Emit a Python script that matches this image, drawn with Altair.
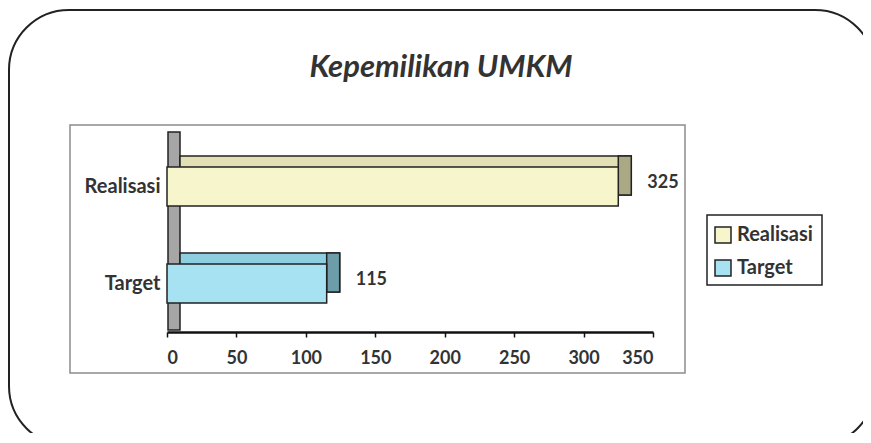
import altair as alt
import pandas as pd

# ---- data ----
categories = ["Realisasi", "Target"]
values = [325, 115]
x_ticks = [0, 50, 100, 150, 200, 250, 300, 350]
title_text = "Kepemilikan UMKM"

# ---- styles ----
front_colors = ["#F7F5CB", "#A7E2F3"]
top_colors = ["#E2E0B4", "#8DCFE0"]
side_colors = ["#ABA985", "#6C9DA9"]
FONT = "Lato"
TXT = "#333333"
W, H = 486, 194

df = pd.DataFrame({"kategori": categories, "nilai": values})
one = pd.DataFrame({"judul": [title_text]})

xs = alt.Scale(domain=[0, 350], nice=False)
ys = alt.Scale(domain=categories, paddingInner=0, paddingOuter=0)

x_axis = alt.Axis(values=x_ticks, title=None, grid=False, domainColor="#111111", domainWidth=2.5,
                  tickColor="#111111", tickWidth=1.5, tickSize=5, labelFont=FONT, labelFontSize=18,
                  labelFontWeight="bold", labelColor=TXT, labelPadding=12, zindex=1)
y_axis = alt.Axis(title=None, ticks=False, domain=False, labelFont=FONT, labelFontSize=20,
                  labelFontWeight="bold", labelColor=TXT, labelPadding=7, zindex=1)

outer = alt.Chart(one).mark_rect(fill="transparent", stroke="#222222", strokeWidth=2, cornerRadius=60).encode(
    x=alt.value(-158), x2=alt.value(708), y=alt.value(-128), y2=alt.value(308))
frame = alt.Chart(one).mark_rect(fill="transparent", stroke="#8C8C8C", strokeWidth=1.5).encode(
    x=alt.value(-97), x2=alt.value(518), y=alt.value(-13), y2=alt.value(235))
wall = alt.Chart(one).mark_rect(fill="#A6A6A6", stroke="#222222", strokeWidth=1.5).encode(
    x=alt.value(1), x2=alt.value(13), y=alt.value(-6), y2=alt.value(192))
legend_box = alt.Chart(one).mark_rect(fill="transparent", stroke="#222222", strokeWidth=1.5).encode(
    x=alt.value(540), x2=alt.value(655), y=alt.value(77), y2=alt.value(147))
title = alt.Chart(one).mark_text(font=FONT, fontSize=31, fontStyle="italic", fontWeight="bold",
                                 color=TXT, align="center", baseline="alphabetic").encode(
    x=alt.value(274), y=alt.value(-61), text="judul:N")

base = alt.Chart(df)
Y = alt.Y("kategori:N", scale=ys, axis=y_axis, sort=categories)
X = alt.X("nilai:Q", scale=xs, axis=x_axis)

back = base.mark_bar(size=39, xOffset=13, x2Offset=13, yOffset=-11, y2Offset=-11,
                     stroke="#222222", strokeWidth=1.5).encode(
    y=Y, x=X,
    color=alt.Color("kategori:N", scale=alt.Scale(domain=categories, range=top_colors), legend=None))

side = base.mark_bar(size=39, x2Offset=13, yOffset=-11, y2Offset=-11,
                     stroke="#222222", strokeWidth=1.5).encode(
    y=Y, x=X, x2=alt.X2("nilai:Q"),
    color=alt.Color("kategori:N", scale=alt.Scale(domain=categories, range=side_colors), legend=None))

front = base.mark_bar(size=39, stroke="#222222", strokeWidth=1.5).encode(
    y=Y, x=X,
    color=alt.Color("kategori:N", scale=alt.Scale(domain=categories, range=front_colors),
                    legend=alt.Legend(orient="none", legendX=546, legendY=87, title=None,
                                      labelFont=FONT, labelFontSize=20, labelFontWeight="bold",
                                      labelColor=TXT, labelBaseline="middle", symbolType="square",
                                      symbolSize=256, symbolStrokeColor="#222222", symbolStrokeWidth=1.5,
                                      rowPadding=11, padding=0, labelOffset=4, zindex=1)))

labels = base.mark_text(align="left", baseline="middle", dx=29, dy=-4, font=FONT, fontSize=18,
                        fontWeight="bold", color=TXT).encode(y=Y, x=X, text=alt.Text("nilai:Q"))

chart = alt.layer(outer, frame, wall, back, side, front, labels, legend_box, title).resolve_scale(
    color="independent"
).properties(
    width=W, height=H,
    padding={"left": 159, "top": 130, "right": 210, "bottom": 101},
    autosize=alt.AutoSizeParams(type="none"),
).configure_view(strokeWidth=0)

chart.save("out.html", embed_options={"renderer": "svg", "actions": False})
